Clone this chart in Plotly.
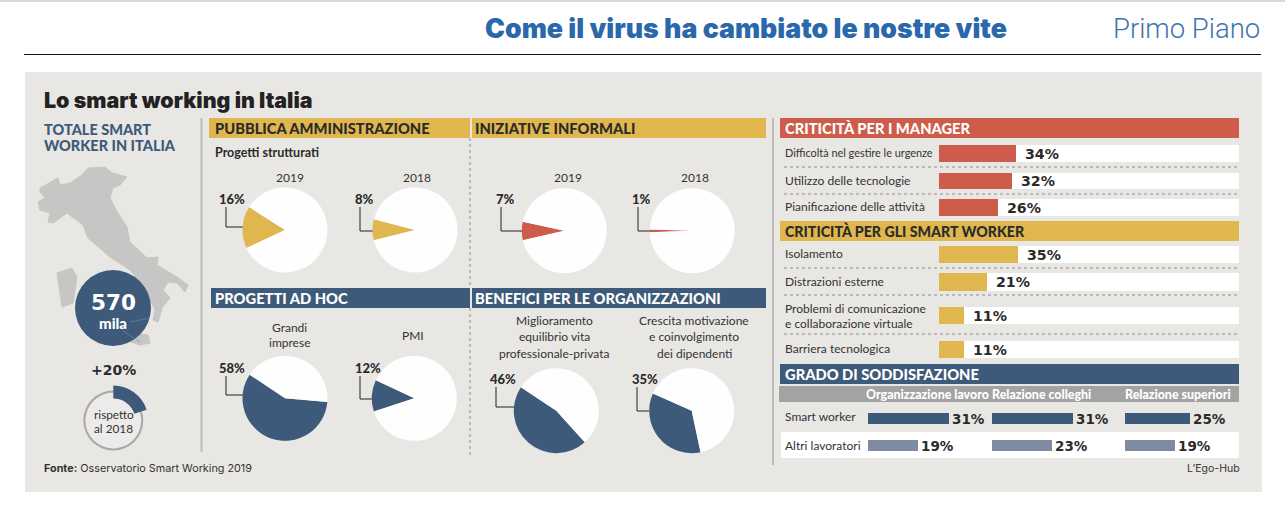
import plotly.graph_objects as go

W, H = 1285, 505
# ---------- data ----------
manager_labels = ["Difficoltà nel gestire le urgenze", "Utilizzo delle tecnologie", "Pianificazione delle attività"]
manager_values = [34, 32, 26]
worker_labels = ["Isolamento", "Distrazioni esterne", "Problemi di comunicazione\ne collaborazione virtuale", "Barriera tecnologica"]
worker_values = [35, 21, 11, 11]
sat_columns = ["Organizzazione lavoro", "Relazione colleghi", "Relazione superiori"]
sat_smart = [31, 31, 25]
sat_other = [19, 23, 19]
pa_years = ["2019", "2018"]
pa_values = [16, 8]
informal_values = [7, 1]
adhoc_labels = ["Grandi\nimprese", "PMI"]
adhoc_values = [58, 12]
benefit_labels = ["Miglioramento\nequilibrio vita\nprofessionale-privata", "Crescita motivazione\ne coinvolgimento\ndei dipendenti"]
benefit_values = [46, 35]
growth_pct = 20
total_thousands = 570
italy_x = [40,58,60,70,82,88,105,112,127,120,113,110,118,127,130,147,158,157,177,188,185,177,168,163,170,162,158,153,155,146,130,110,88,83,67,53,48,50,40,38,45,40]
italy_y = [188,178,185,183,175,168,167,173,177,185,188,198,213,227,242,258,257,265,277,285,292,283,282,290,298,308,322,320,310,290,270,257,238,225,213,223,222,213,210,202,198,192]
sardinia_x = [57,72,77,73,62,60]
sardinia_y = [273,268,277,303,307,293]
sicily_x = [125,148,150,140,125]
sicily_y = [332,335,343,345,340]
coast_a_x = [130, 150]
coast_a_y = [322, 318]
coast_b_x = [122, 140]
coast_b_y = [330, 342]

# ---------- palette ----------
BG = "#e9e7e4"; YEL = "#e0b74f"; RED = "#cd5c4b"; NAVY = "#3d5a7a"; SLATE = "#7f8ba3"
INK = "#2b2b2b"; NARROW = "Lato"; WIDE = "DejaVu Sans"

fig = go.Figure()
shapes, notes = [], []
px = lambda x: x / W
py = lambda y: 1 - y / H

def rect(x0, y0, x1, y1, color):
    shapes.append(dict(type="rect", xref="paper", yref="paper", x0=px(x0), x1=px(x1), y0=py(y1), y1=py(y0),
                       fillcolor=color, line_width=0, layer="below"))

def line(pts, color=INK, width=1, dash="solid"):
    for (a, b), (c, d) in zip(pts, pts[1:]):
        shapes.append(dict(type="line", xref="paper", yref="paper", x0=px(a), x1=px(c), y0=py(b), y1=py(d),
                           line=dict(color=color, width=width, dash=dash), layer="below"))

def text(x, y, s, size, color=INK, family=NARROW, weight=400, anchor="left", gap=None):
    lines = s.split("\n")
    gap = gap or size * 1.25
    nudge = {"left": -1, "right": 1, "center": 0}[anchor]
    for i, l in enumerate(lines):
        notes.append(dict(xref="paper", yref="paper", x=px(x + nudge), y=py(y + i * gap), text=l, showarrow=False,
                          xanchor=anchor, yanchor="middle", borderpad=0,
                          font=dict(size=size, color=color, family=family, weight=weight)))

HEAD = 14.7
BODY = 12
# page furniture
rect(0, 0, W, 2, "#d8d8d8")
line([(24, 54.5), (1261, 54.5)], "#111111", 1)
rect(25, 72, 1262, 492, BG)
text(485, 28, "Come il virus ha cambiato le nostre vite", 26.7, "#2a67ab", "Inter", 900)
text(1260, 28, "Primo Piano", 27.5, "#3f74ab", "Roboto", 300, "right")
text(44, 100, "Lo smart working in Italia", 21.4, "#222222", "Inter", 900)
text(44, 129, "TOTALE SMART\nWORKER IN ITALIA", 14.5, NAVY, NARROW, 900, gap=16)
text(44, 468, "<b>Fonte:</b> Osservatorio Smart Working 2019", 10.8, "#333333", "Inter")
text(1240, 468, "L’Ego-Hub", 10.5, "#333333", "Inter", 400, "right")

# vertical rules
line([(201.5, 118), (201.5, 452)], "#bdbcba", 2)
line([(773, 118), (773, 465)], "#bdbcba", 2)
line([(470, 138), (470, 288)], "#8e8e8e", 1, "dot")
line([(470, 308), (470, 457)], "#8e8e8e", 1, "dot")

# section bands
rect(209, 118, 470, 138, YEL); rect(472, 118, 766, 138, YEL)
rect(211, 288, 470, 308, NAVY); rect(472, 288, 766, 308, NAVY)
text(215, 128, "PUBBLICA AMMINISTRAZIONE", HEAD, INK, NARROW, 900)
text(475, 128, "INIZIATIVE INFORMALI", HEAD, INK, NARROW, 900)
text(215, 298, "PROGETTI AD HOC", HEAD, "white", NARROW, 900)
text(475, 298, "BENEFICI PER LE ORGANIZZAZIONI", HEAD, "white", NARROW, 900)
text(215, 152, "Progetti strutturati", 12.5, INK, NARROW, 700)

# ---------- pies ----------
R = 42.5
def pie(cx, cy, r, value, color, rotation, rest="#fefefe", hole=0):
    fig.add_trace(go.Pie(values=[value, 100 - value], rotation=rotation, sort=False, direction="clockwise",
                         textinfo="none", hoverinfo="skip", showlegend=False, hole=hole,
                         marker=dict(colors=[color, rest], line=dict(width=0)),
                         domain=dict(x=[px(cx - r), px(cx + r)], y=[py(cy + r), py(cy - r)])))

def leader(label_x, label_y, value, x0, y0, y1, x1):
    text(label_x, label_y, f"{value}%", 13, INK, NARROW, 900)
    line([(x0, y0), (x0, y1), (x1, y1)], "#222222", 1)

pie(285, 230, R, pa_values[0], YEL, 245)
pie(415, 230, R, pa_values[1], YEL, 256)
pie(564.3, 230.7, R, informal_values[0], RED, 257)
pie(692.3, 230.7, R, informal_values[1], RED, 268)
pie(285, 398.3, R, adhoc_values[0], NAVY, 95)
pie(414.3, 398.3, R, adhoc_values[1], NAVY, 252)
pie(556.3, 410.7, R, benefit_values[0], NAVY, 138)
pie(691.7, 410.7, R, benefit_values[1], NAVY, 168)

leader(219, 199, pa_values[0], 226, 207, 227, 243)
leader(355, 199, pa_values[1], 360, 207, 231, 373)
leader(496, 199, informal_values[0], 501, 207, 231, 522)
leader(632, 199, informal_values[1], 638, 207, 231, 650)
leader(219, 368, adhoc_values[0], 226, 376, 395, 243)
leader(355, 368, adhoc_values[1], 360, 376, 399, 372)
leader(490, 379, benefit_values[0], 496, 387, 407, 514)
leader(632, 379, benefit_values[1], 637, 387, 411, 649)

text(290, 177, pa_years[0], BODY, "#333333", NARROW, 400, "center")
text(417, 177, pa_years[1], BODY, "#333333", NARROW, 400, "center")
text(568, 177, pa_years[0], BODY, "#333333", NARROW, 400, "center")
text(695, 177, pa_years[1], BODY, "#333333", NARROW, 400, "center")
text(289, 327, adhoc_labels[0], BODY, "#333333", NARROW, 400, "center", gap=15.5)
text(413, 335, adhoc_labels[1], BODY, "#333333", NARROW, 400, "center")
text(554, 320, benefit_labels[0], BODY, "#333333", NARROW, 400, "center", gap=16.5)
text(694, 320, benefit_labels[1], BODY, "#333333", NARROW, 400, "center", gap=16.5)

# ---------- full-page overlay axes for map and badge ----------
ov = dict(xaxis="x", yaxis="y", hoverinfo="skip", showlegend=False)
for xs, ys in ((italy_x, italy_y), (sardinia_x, sardinia_y), (sicily_x, sicily_y)):
    fig.add_trace(go.Scatter(x=xs + xs[:1], y=ys + ys[:1], mode="lines", fill="toself", fillcolor="#c6c6c5",
                             line=dict(color="#c6c6c5", width=1), **ov))
fig.add_trace(go.Scatter(x=[113], y=[308], mode="markers", marker=dict(size=76, color=NAVY, line_width=0), **ov))
for xs, ys in ((coast_a_x, coast_a_y), (coast_b_x, coast_b_y)):
    fig.add_trace(go.Scatter(x=xs, y=ys, mode="lines", line=dict(color="#7d91a8", width=0.6), **ov))
fig.add_trace(go.Scatter(x=[113.3], y=[420.5], mode="markers", marker=dict(size=58, color="#ecebe9", line_width=0), **ov))
text(113, 302, str(total_thousands), 21.5, "white", WIDE, 700, "center")
text(113, 323, "mila", 15, "white", NARROW, 900, "center")
text(113.5, 370, f"+{growth_pct}%", 14, INK, WIDE, 700, "center")
text(113.5, 414, "rispetto\nal 2018", 11.8, "#333333", NARROW, 400, "center", gap=14)
pie(113.3, 420.5, 30, 100, "#a9a9a9", 0, "rgba(0,0,0,0)", 0.93)
pie(113.3, 420.5, 35, growth_pct, NAVY, 0, "rgba(0,0,0,0)", 0.63)

# ---------- bar rows, each on its own axes ----------
axes = {}
axis_id = [1]
def bar_row(value, color, x0, y0, y1, width, scale, label_gap, label_size=14.2):
    axis_id[0] += 1
    n = axis_id[0]
    axes[f"xaxis{n}"] = dict(domain=[px(x0), px(x0 + width)], range=[0, width / scale], visible=False,
                             fixedrange=True, anchor=f"y{n}")
    axes[f"yaxis{n}"] = dict(domain=[py(y1), py(y0)], range=[-0.5, 0.5], autorange=False, visible=False,
                             fixedrange=True, anchor=f"x{n}")
    fig.add_trace(go.Bar(x=[value], y=[0], orientation="h", width=1, marker=dict(color=color, line_width=0),
                         xaxis=f"x{n}", yaxis=f"y{n}", hoverinfo="skip", showlegend=False))
    notes.append(dict(xref=f"x{n}", yref=f"y{n}", x=value, y=0, xshift=label_gap, text=f"{value}%", showarrow=False,
                      xanchor="left", yanchor="middle",
                      font=dict(size=label_size, color=INK, family=WIDE, weight=700)))

TX0, TW, K = 939, 300, 2.27
# managers
rect(780, 118, 1239, 138, RED)
text(785, 128, "CRITICITÀ PER I MANAGER", HEAD, "white", NARROW, 900)
rows_m = [(145, 162), (173, 189), (199, 216)]
for lab, v, (a, b) in zip(manager_labels, manager_values, rows_m):
    rect(TX0, a, 1239, b, "white")
    bar_row(v, RED, TX0, a, b, TW, K, 7)
    text(785, (a + b) / 2 - 1, lab, 10.9 if len(lab) > 30 else BODY, "#333333")
# workers
rect(780, 221, 1239, 241, YEL)
text(785, 231, "CRITICITÀ PER GLI SMART WORKER", 14.2, INK, NARROW, 900)
rows_w = [(246, 263), (273, 291), (307, 324), (341, 358)]
for lab, v, (a, b) in zip(worker_labels, worker_values, rows_w):
    rect(TX0, a, 1239, b, "white")
    bar_row(v, YEL, TX0, a, b, TW, K, 7)
    if "\n" in lab:
        text(785, 308, lab, BODY, "#333333", gap=15)
    else:
        text(785, (a + b) / 2 - 1, lab, BODY, "#333333")
for y in (167, 194, 268, 295, 334):
    line([(784, y), (1239, y)], "#8e8e8e", 1, "dot")
# satisfaction
rect(780, 364, 1239, 384, NAVY)
text(785, 374, "GRADO DI SODDISFAZIONE", HEAD, "white", NARROW, 900)
rect(779, 386, 1239, 402, "#a3a3a3")
rect(781, 432, 1239, 458, "white")
col_x = [868, 992, 1125]
head_x = [866, 992, 1125]
for hx, c in zip(head_x, sat_columns):
    text(hx, 394, c, 12.4, "white", NARROW, 900)
for cx, s, o in zip(col_x, sat_smart, sat_other):
    bar_row(s, NAVY, cx, 413, 424, 115, 2.61, 1, 13.5)
    bar_row(o, SLATE, cx, 440, 451, 115, 2.61, 1, 13.5)
text(785, 416, "Smart worker", BODY, "#333333")
text(785, 445, "Altri lavoratori", BODY, "#333333")

fig.update_layout(
    width=W, height=H, margin=dict(l=0, r=0, t=0, b=0), paper_bgcolor="white", plot_bgcolor="rgba(0,0,0,0)",
    showlegend=False, bargap=0, shapes=shapes, annotations=notes,
    xaxis=dict(domain=[0, 1], range=[0, W], visible=False, fixedrange=True),
    yaxis=dict(domain=[0, 1], range=[H, 0], visible=False, fixedrange=True),
    **axes,
)
fig.write_html("out.html", config=dict(displayModeBar=False, responsive=False),
               post_script="document.body.style.margin='0';document.documentElement.style.overflow='hidden';")
